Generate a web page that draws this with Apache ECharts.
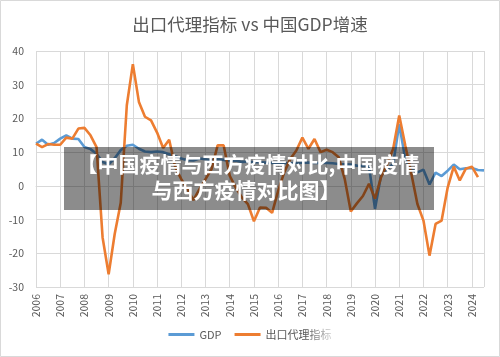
<!DOCTYPE html>
<html>
<head>
<meta charset="utf-8">
<script src="https://cdn.jsdelivr.net/npm/echarts@6/dist/echarts.min.js"></script>
<style>
html,body{margin:0;padding:0;background:#fff;}
#chart{width:500px;height:357px;}
</style>
</head>
<body>
<div id="chart"></div>
<script>
// Quarterly data, first point = 2006 Q1
const startYear = 2006;
const yearTicks = [2006,2007,2008,2009,2010,2011,2012,2013,2014,2015,2016,2017,2018,2019,2020,2021,2022,2023,2024];
const gdp = [
  12.5, 13.7, 12.2, 12.7,   // 2006
  14.0, 15.0, 14.0, 13.9,   // 2007
  11.5, 10.9, 9.5, 7.1,     // 2008
  6.4, 8.2, 10.6, 11.9,     // 2009
  12.2, 11.0, 10.2, 10.0,   // 2010
  10.2, 10.0, 9.4, 8.8,     // 2011
  8.1, 7.6, 7.5, 8.1,       // 2012
  7.9, 7.6, 7.9, 7.7,       // 2013
  7.4, 7.5, 7.1, 7.2,       // 2014
  7.0, 7.0, 6.9, 6.8,       // 2015
  6.9, 6.7, 6.7, 6.8,       // 2016
  6.9, 6.9, 6.8, 6.8,       // 2017
  6.8, 6.7, 6.5, 6.4,       // 2018
  6.3, 6.0, 5.9, 5.8,       // 2019
  -6.8, 3.2, 4.9, 6.5,      // 2020
  18.3, 7.9, 4.9, 4.0,      // 2021
  4.8, 0.4, 3.9, 2.9,       // 2022
  4.5, 6.3, 4.9, 5.2,       // 2023
  5.3, 4.7, 4.6             // 2024
];
const exportProxy = [
  12.5, 11.5, 12.4, 12.2,   // 2006
  12.2, 14.3, 14.0, 17.0,   // 2007
  17.2, 15.0, 11.5, -15.3,  // 2008
  -26.2, -14.3, -5.0, 23.9, // 2009
  36.1, 24.9, 20.5, 19.4,   // 2010
  15.8, 11.2, 13.7, 5.5,    // 2011
  2.0, -1.0, -4.2, -1.0,    // 2012
  2.0, 5.0, 12.0, 12.0,     // 2013
  3.0, -0.5, -3.4, -5.4,    // 2014
  -10.5, -6.4, -6.5, -8.0,  // 2015
  -1.5, 4.0, 8.0, 10.5,     // 2016
  14.3, 11.0, 13.9, 10.0,   // 2017
  10.7, 10.0, 8.5, 2.0,     // 2018
  -7.6, -5.2, -3.0, 0.6,    // 2019
  -3.8, 2.6, 6.5, 11.0,     // 2020
  20.9, 12.0, 3.6, -5.4,    // 2021
  -10.3, -20.7, -11.3, -10.3, // 2022
  -0.5, 5.7, 1.6, 5.1,      // 2023
  5.7, 2.6                  // 2024
];
const seriesNames = ['GDP', '出口代理指标'];
const titleText = '出口代理指标 vs 中国GDP增速';
const bannerLines = ['【中国疫情与西方疫情对比,中国疫情', '与西方疫情对比图】'];

const toPoints = arr => arr.map((v, i) => [startYear + i / 4, v]);
const FONT = '"Noto Sans CJK SC", "Noto Sans", sans-serif';

const chart = echarts.init(document.getElementById('chart'), null, {renderer: 'canvas'});
chart.setOption({
  animation: false,
  backgroundColor: '#ffffff',
  title: {
    text: titleText,
    left: 'center',
    top: 11,
    textStyle: {color: '#595959', fontSize: 17.5, fontWeight: 'normal', fontFamily: FONT}
  },
  grid: {left: 36, right: 16, top: 51, bottom: 70},
  legend: {
    bottom: 12,
    left: 'center',
    icon: 'rect',
    itemWidth: 26,
    itemHeight: 3,
    itemGap: 13,
    textStyle: {color: '#595959', fontSize: 11, fontFamily: FONT},
    data: seriesNames
  },
  xAxis: {
    type: 'value',
    min: yearTicks[0],
    max: 2024.5,
    interval: 1,
    axisLine: {show: true, lineStyle: {color: '#d9d9d9'}},
    axisTick: {show: false},
    splitLine: {show: true, lineStyle: {color: '#d9d9d9', width: 1}},
    axisLabel: {
      rotate: 90,
      margin: 7,
      color: '#595959',
      fontSize: 10.5,
      fontFamily: FONT,
      formatter: v => (yearTicks.indexOf(v) >= 0 ? String(v) : '')
    }
  },
  yAxis: {
    type: 'value',
    min: -30,
    max: 40,
    interval: 10,
    axisLine: {show: false},
    axisTick: {show: false},
    splitLine: {show: true, lineStyle: {color: '#d9d9d9', width: 1}},
    axisLabel: {color: '#595959', fontSize: 10.5, margin: 12, fontFamily: FONT}
  },
  series: [
    {
      name: seriesNames[0],
      type: 'line',
      data: toPoints(gdp),
      showSymbol: false,
      symbol: 'none',
      lineStyle: {color: '#5B9BD5', width: 2.6},
      itemStyle: {color: '#5B9BD5'},
      z: 2
    },
    {
      name: seriesNames[1],
      type: 'line',
      data: toPoints(exportProxy),
      showSymbol: false,
      symbol: 'none',
      lineStyle: {color: '#ED7D31', width: 2.6},
      itemStyle: {color: '#ED7D31'},
      z: 3
    }
  ],
  graphic: [
    {
      type: 'rect', z: 100,
      shape: {x: 64, y: 147, width: 370, height: 63},
      style: {fill: 'rgba(0,0,0,0.45)'}
    },
    {
      type: 'text', z: 101,
      style: {text: bannerLines[0], x: 248, y: 164, fill: '#ffffff', fontSize: 21, fontWeight: 'bold',
        fontFamily: FONT, align: 'center', verticalAlign: 'middle'}
    },
    {
      type: 'text', z: 101,
      style: {text: bannerLines[1], x: 246, y: 190, fill: '#ffffff', fontSize: 21, fontWeight: 'bold',
        fontFamily: FONT, align: 'center', verticalAlign: 'middle'}
    },
    {
      type: 'rect', z: 100,
      shape: {x: 306, y: 327, width: 94, height: 20},
      style: {fill: new echarts.graphic.LinearGradient(0, 0, 1, 0, [
        {offset: 0, color: 'rgba(255,255,255,0)'},
        {offset: 0.35, color: 'rgba(255,255,255,0.95)'},
        {offset: 1, color: 'rgba(255,255,255,1)'}
      ])}
    },
    {
      type: 'rect', z: 100,
      shape: {x: 0.5, y: 0.5, width: 499, height: 356},
      style: {fill: 'none', stroke: '#d9d9d9', lineWidth: 1}
    }
  ]
});
</script>
</body>
</html>
